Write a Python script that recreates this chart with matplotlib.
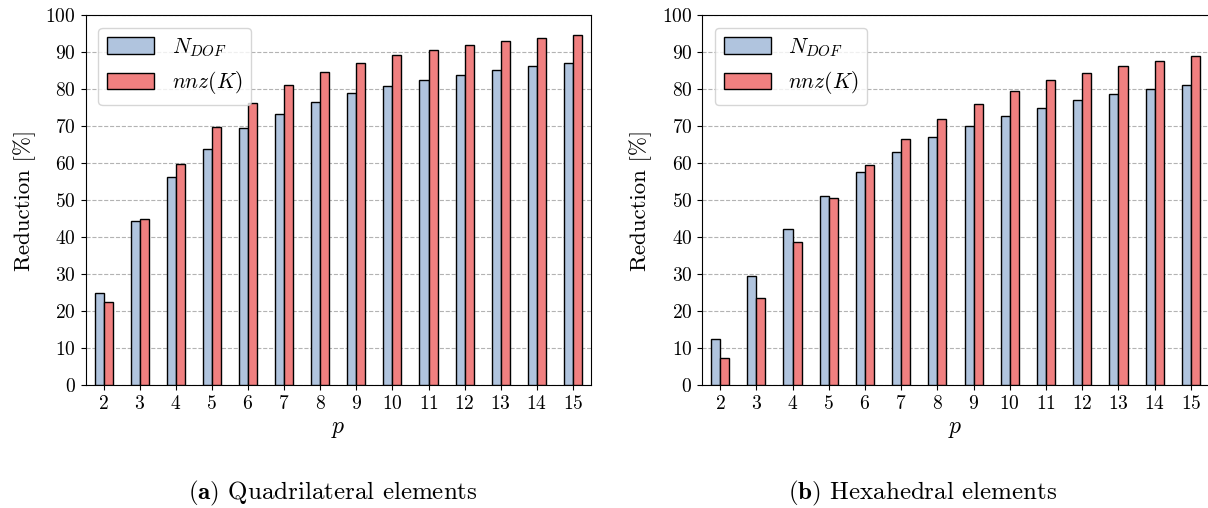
import matplotlib
matplotlib.use("Agg")
import matplotlib.pyplot as plt
import numpy as np

plt.rcParams.update({
    "font.family": "serif",
    "font.serif": ["cmr10"],
    "mathtext.fontset": "cm",
    "axes.formatter.use_mathtext": True,
    "axes.unicode_minus": False,
    "font.size": 14,
})

p = [2, 3, 4, 5, 6, 7, 8, 9, 10, 11, 12, 13, 14, 15]

# quadrilateral elements
quad_ndof = [25.0, 44.4, 56.1, 63.9, 69.4, 73.3, 76.5, 78.9, 80.9, 82.5, 83.9, 85.1, 86.1, 87.1]
quad_nnz = [22.3, 44.9, 59.8, 69.6, 76.3, 81.0, 84.5, 87.1, 89.1, 90.6, 91.9, 93.0, 93.7, 94.5]

# hexahedral elements
hex_ndof = [12.3, 29.5, 42.1, 51.1, 57.7, 62.9, 66.9, 70.1, 72.8, 75.0, 76.9, 78.6, 80.0, 81.2]
hex_nnz = [7.4, 23.6, 38.6, 50.5, 59.5, 66.6, 72.0, 76.0, 79.5, 82.3, 84.4, 86.2, 87.7, 89.0]

labels = [r"$N_{DOF}$", r"$nnz(K)$"]
captions = [r"$\mathbf{(a)}$ Quadrilateral elements", r"$\mathbf{(b)}$ Hexahedral elements"]
color_ndof, color_nnz = "lightsteelblue", "lightcoral"

W, H = 1208, 508
fig = plt.figure(figsize=(W / 100, H / 100), dpi=100)

def px_axes(left, top, width, height):
    return fig.add_axes([left / W, (H - top - height) / H, width / W, height / H])

def draw_panel(ax, ndof, nnz):
    x = np.array(p)
    w = 0.25
    ax.bar(x - w / 2, ndof, w, color=color_ndof, edgecolor="black", linewidth=1.0,
           label=labels[0], zorder=3)
    ax.bar(x + w / 2, nnz, w, color=color_nnz, edgecolor="black", linewidth=1.0,
           label=labels[1], zorder=3)
    ax.set_xlim(1.5, 15.5)
    ax.set_ylim(0, 100)
    ax.set_xticks(p)
    ax.set_yticks(range(0, 101, 10))
    ax.yaxis.grid(True, linestyle="--", color="0.7", linewidth=0.8, zorder=0)
    ax.set_axisbelow(True)
    ax.set_xlabel(r"$p$", fontsize=17, labelpad=4)
    ax.set_ylabel("Reduction [%]", fontsize=16.5, labelpad=7)
    ax.tick_params(labelsize=14)
    ax.legend(loc="upper left", fontsize=15.5, handlelength=2.2, handleheight=0.8,
              borderaxespad=0.6)

ax1 = px_axes(85.5, 15, 505.5, 370)
draw_panel(ax1, quad_ndof, quad_nnz)

ax2 = px_axes(702, 15, 507, 370)
draw_panel(ax2, hex_ndof, hex_nnz)

fig.text(333 / W, (H - 493) / H, captions[0], ha="center", va="center", fontsize=18)
fig.text(923 / W, (H - 493) / H, captions[1], ha="center", va="center", fontsize=18)

fig.savefig("out.png", dpi=100)
